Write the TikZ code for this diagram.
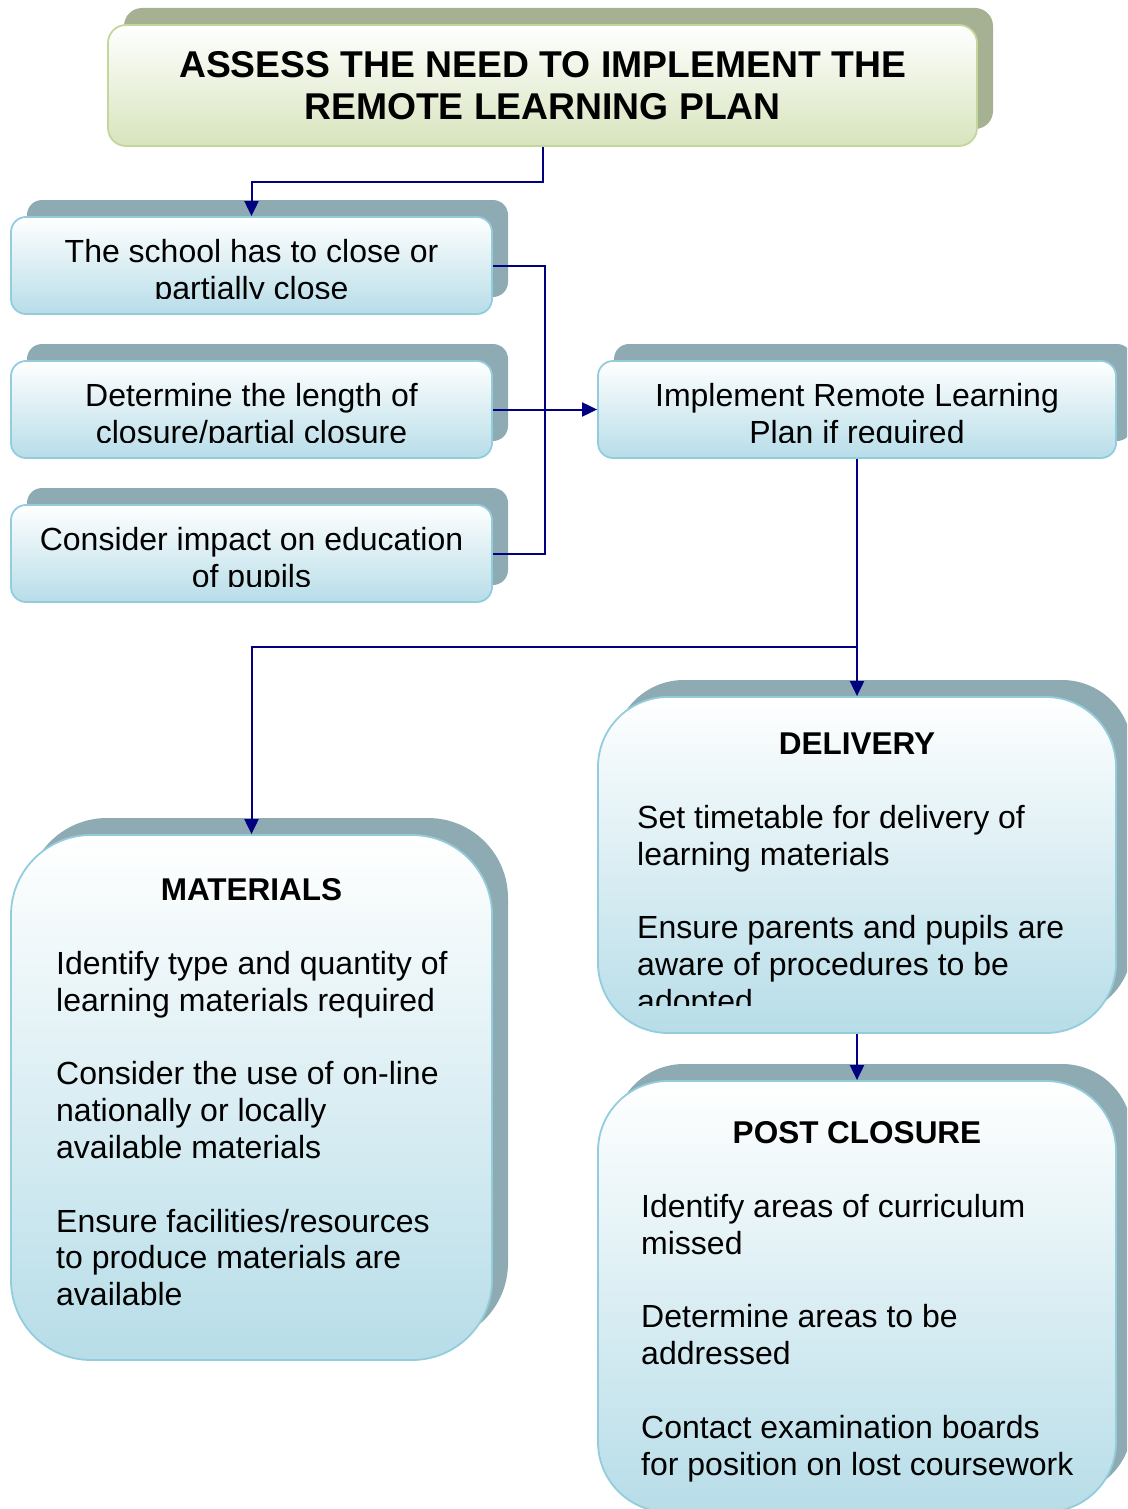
\documentclass[tikz,border=0pt]{standalone}
\usepackage{fontspec}
\setmainfont{Liberation Sans}
\usetikzlibrary{shadows,arrows.meta}
\definecolor{navyline}{HTML}{000080}
\definecolor{blueshadow}{HTML}{8EABB3}
\definecolor{greenshadow}{HTML}{A6B092}
\definecolor{blueborder}{HTML}{93CDDD}
\definecolor{greenborder}{HTML}{C3D69B}
\definecolor{bluebottom}{HTML}{B7DDE8}
\definecolor{greenbottom}{HTML}{D7E4BD}
\tikzset{
  bluebox/.style={rectangle, draw=blueborder, line width=1.8pt, inner sep=0pt,
    top color=white, bottom color=bluebottom,
    general shadow={shadow xshift=16pt, shadow yshift=17pt, fill=blueshadow, draw=none}},
  greenbox/.style={rectangle, draw=greenborder, line width=1.8pt, inner sep=0pt,
    top color=white, bottom color=greenbottom,
    general shadow={shadow xshift=16pt, shadow yshift=17pt, fill=greenshadow, draw=none}},
  bodytext/.style={inner sep=0pt, font=\fontsize{32}{36.8}\selectfont},
  headtext/.style={inner sep=0pt, font=\fontsize{31.5}{36}\selectfont\bfseries},
  conn/.style={draw=navyline, line width=2pt},
  arr/.style={conn, -{Triangle[length=15pt,width=14pt]}}
}
\begin{document}
\begin{tikzpicture}[x=1pt,y=-1pt]
\clip (0,0) rectangle (1127,1509);
\useasboundingbox (0,0) rectangle (1127,1509);

% boxes
\node[greenbox, rounded corners=18pt, minimum width=869pt, minimum height=121pt] (title) at (542.5,85.5) {};
\node[bluebox, rounded corners=15pt, minimum width=481pt, minimum height=97pt] (b1) at (251.5,265.5) {};
\node[bluebox, rounded corners=15pt, minimum width=481pt, minimum height=97pt] (b2) at (251.5,409.5) {};
\node[bluebox, rounded corners=15pt, minimum width=481pt, minimum height=97pt] (b3) at (251.5,553.5) {};
\node[bluebox, rounded corners=15pt, minimum width=518pt, minimum height=97pt] (imp) at (857,409.5) {};
\node[bluebox, rounded corners=70pt, minimum width=518pt, minimum height=336pt] (del) at (857,865) {};
\node[bluebox, rounded corners=70pt, minimum width=518pt, minimum height=431pt] (post) at (857,1296.5) {};
\node[bluebox, rounded corners=80pt, minimum width=481pt, minimum height=525pt] (mat) at (251.5,1097.5) {};

% texts
\node[inner sep=0pt, anchor=base, font=\fontsize{37.3}{42}\selectfont\bfseries] (titletext) at (542.5,78)
  {\begin{tabular}[t]{@{}c@{}}ASSESS THE NEED TO IMPLEMENT THE\\REMOTE LEARNING PLAN\end{tabular}};

\begin{scope}
\clip (11,217) rectangle (492,298);
\node[bodytext, anchor=base] (t1) at (251.5,262.5)
  {\begin{tabular}[t]{@{}c@{}}The school has to close or\\partially close\end{tabular}};
\end{scope}
\begin{scope}
\clip (11,361) rectangle (492,442);
\node[bodytext, anchor=base] (t2) at (251.5,406.5)
  {\begin{tabular}[t]{@{}c@{}}Determine the length of\\closure/partial closure\end{tabular}};
\end{scope}
\begin{scope}
\clip (11,505) rectangle (492,586);
\node[bodytext, anchor=base] (t3) at (251.5,550.5)
  {\begin{tabular}[t]{@{}c@{}}Consider impact on education\\of pupils\end{tabular}};
\end{scope}
\begin{scope}
\clip (598,361) rectangle (1116,442);
\node[bodytext, anchor=base] (timp) at (857,406.5)
  {\begin{tabular}[t]{@{}c@{}}Implement Remote Learning\\Plan if required\end{tabular}};
\end{scope}

\node[headtext, anchor=base] (hdel) at (857,754) {DELIVERY};
\begin{scope}
\clip (598,697) rectangle (1116,1005);
\node[bodytext, anchor=base west] (tdel) at (637,828.5)
  {\begin{tabular}[t]{@{}l@{}}Set timetable for delivery of\\learning materials\\ \\Ensure parents and pupils are\\aware of procedures to be\\adopted\end{tabular}};
\end{scope}

\node[headtext, anchor=base] (hmat) at (251.5,900) {MATERIALS};
\node[bodytext, anchor=base west] (tmat) at (56,974.5)
  {\begin{tabular}[t]{@{}l@{}}Identify type and quantity of\\learning materials required\\ \\Consider the use of on-line\\nationally or locally\\available materials\\ \\Ensure facilities/resources\\to produce materials are\\available\end{tabular}};

\node[headtext, anchor=base] (hpost) at (857,1143) {POST CLOSURE};
\node[bodytext, anchor=base west] (tpost) at (641,1217.5)
  {\begin{tabular}[t]{@{}l@{}}Identify areas of curriculum\\missed\\ \\Determine areas to be\\addressed\\ \\Contact examination boards\\for position on lost coursework\end{tabular}};

% connectors
\draw[arr] (title.south) -- ++(0,35) -| (b1.north);
\coordinate (jt) at (545,265.5);
\coordinate (jb) at (545,553.5);
\draw[conn] (b1.east) -- (jt) -- (jb) -- (b3.east);
\draw[arr] (b2.east) -- (imp.west);
\draw[arr] (imp.south) -- (del.north);
\coordinate (br) at (857,647);
\draw[arr] (br) -| (mat.north);
\draw[arr] (del.south) -- (post.north);
\end{tikzpicture}
\end{document}
